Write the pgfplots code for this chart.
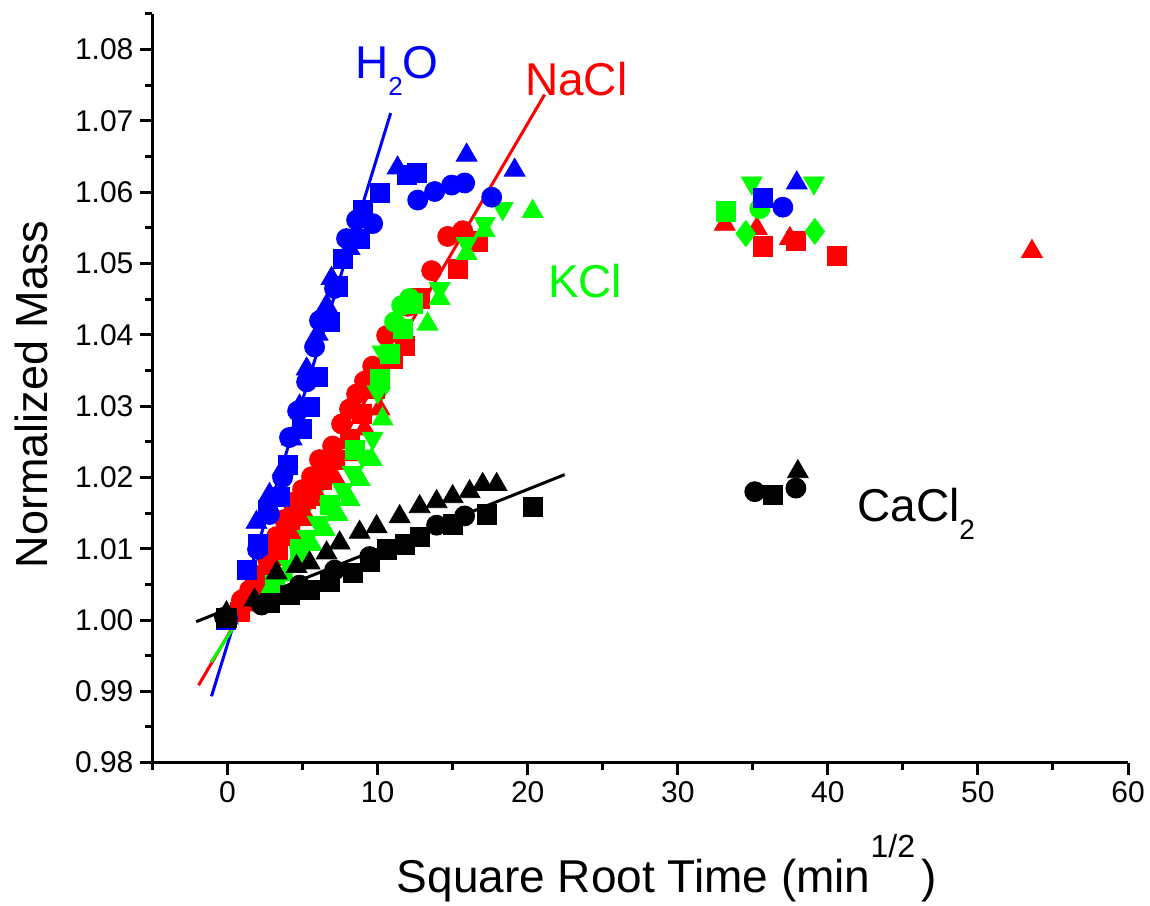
\documentclass[border=0pt]{standalone}
\usepackage{fontspec}
\setmainfont{Liberation Sans}
\usepackage{pgfplots}
\pgfplotsset{compat=1.18}
\definecolor{pblue}{RGB}{0,0,255}
\definecolor{pred}{RGB}{255,0,0}
\definecolor{pgreen}{RGB}{0,255,0}
\pgfplotsset{
  mk/.style={only marks, mark=#1},
}
\begin{document}
\begin{tikzpicture}[x=1pt,y=1pt]
\begin{axis}[
  at={(0,0)}, anchor=south west,
  scale only axis, width=487.75pt, height=374.3pt,
  xmin=-5, xmax=60, ymin=0.98, ymax=1.085,
  axis x line*=bottom, axis y line*=left,
  axis line style={line width=1.5pt, -},
  tick align=outside,
  major tick length=6pt, minor tick length=3.5pt,
  tick style={black, line width=1.5pt},
  minor tick style={black, line width=1.5pt},
  xtick={0,10,20,30,40,50,60},
  minor xtick={-5,5,15,25,35,45,55},
  ytick={0.98,0.99,1.00,1.01,1.02,1.03,1.04,1.05,1.06,1.07,1.08},
  minor ytick={0.985,0.995,1.005,1.015,1.025,1.035,1.045,1.055,1.065,1.075,1.085},
  yticklabel style={/pgf/number format/.cd, fixed, fixed zerofill, precision=2},
  /pgf/number format/assume math mode=true,
  ticklabel style={font=\fontsize{15}{15}\selectfont},
  clip=false,
  xlabel={Square Root Time (min\raisebox{17.5pt}{\fontsize{16}{16}\selectfont 1/2}\hspace{3pt})},
  xlabel style={font=\fontsize{23}{23}\selectfont, at={(axis description cs:0.527,-0.174)}, anchor=base},
  ylabel={Normalized Mass},
  ylabel style={font=\fontsize{22.5}{22.5}\selectfont, at={(axis description cs:-0.108,0.492)}, anchor=base},
]
% ---- NaCl (red)
\addplot[mk=*, color=pred, mark size=5pt] coordinates {
(0.93,1.0028) (1.47,1.0042) (2.13,1.0063) (2.67,1.0085) (3.27,1.0117) (3.8,1.0141)
(4.33,1.0165) (5.0,1.0183) (5.6,1.0201) (6.13,1.0225) (7.0,1.0244) (7.6,1.0275)
(8.13,1.0296) (8.6,1.0317) (9.13,1.0335) (9.67,1.0356) (10.6,1.0399) (12.0,1.0440)
(13.6,1.0490) (14.67,1.0538) (15.67,1.0546)};
\addplot[mk=square*, color=pred, mark size=4.8pt] coordinates {
(0.8,1.0011) (1.8,1.0042) (2.47,1.0063) (3.0,1.0100) (3.33,1.0092) (4.13,1.0120) (4.8,1.0148)
(5.2,1.0170) (5.6,1.0176) (6.27,1.0197) (6.7,1.0215) (7.13,1.0225) (8.13,1.0254) (8.93,1.0289) (9.8,1.0324)
(11.0,1.0366) (11.8,1.0385) (12.8,1.0451) (15.33,1.0493) (16.67,1.0531)
(35.67,1.0524) (37.87,1.0532) (40.6,1.0511)};
\addplot[mk=triangle*, color=pred, mark size=6pt] coordinates {
(1.13,1.0021) (2.27,1.0049) (3.47,1.0085) (4.47,1.0113) (5.33,1.0141) (6.13,1.0169)
(7.13,1.0200) (8.13,1.0232) (9.13,1.0268) (10.13,1.0296)
(33.13,1.0555) (35.27,1.0549) (37.47,1.0535) (53.6,1.0517)};
% ---- KCl (green)
\addplot[mk=triangle*, color=pgreen, mark size=6pt, mark options={rotate=180}] coordinates {
(4.13,1.0075) (4.8,1.0094) (5.33,1.0117) (6.0,1.0137) (6.8,1.0159) (7.67,1.0183)
(8.33,1.0207) (9.0,1.0230) (9.67,1.0255) (10.0,1.0320) (10.33,1.0376) (14.13,1.0465)
(15.93,1.0528) (17.13,1.0556) (18.33,1.0577) (34.93,1.0613) (39.07,1.0613)};
\addplot[mk=triangle*, color=pgreen, mark size=6pt] coordinates {
(2.8,1.0042) (3.8,1.0063) (4.6,1.0085) (5.6,1.0106) (6.47,1.0127) (7.33,1.0148)
(8.13,1.0169) (8.8,1.0197) (9.6,1.0225) (10.33,1.0282) (13.33,1.0415) (14.13,1.0451)
(15.93,1.0514) (17.13,1.0546) (20.33,1.0573)};
\addplot[mk=square*, color=pgreen, mark size=4.8pt] coordinates {
(3.13,1.0049) (4.8,1.0099) (6.8,1.0162) (8.47,1.0239) (10.13,1.0338) (10.8,1.0373)
(11.67,1.0408) (12.33,1.0444) (33.2,1.0573)};
\addplot[mk=*, color=pgreen, mark size=5pt] coordinates {
(11.13,1.0418) (11.6,1.0441) (12.13,1.0451) (35.47,1.0577)};
\addplot[mk=diamond*, color=pgreen, mark size=6.5pt] coordinates {
(34.53,1.0542) (39.13,1.0545)};
% ---- H2O (blue)
\addplot[mk=square*, color=pblue, mark size=4.8pt] coordinates {
(-0.13,1.0000) (1.3,1.0070) (2.0,1.0106) (2.67,1.0155) (3.47,1.0173) (4.0,1.0218)
(4.93,1.0268) (5.47,1.0299) (6.0,1.0341) (6.8,1.0418) (7.33,1.0468) (7.67,1.0507)
(8.8,1.0535) (9.0,1.0575) (10.13,1.0599) (11.93,1.0624) (12.6,1.0627) (35.67,1.0592)};
\addplot[mk=*, color=pblue, mark size=5pt] coordinates {
(0,1.0003) (2.0,1.0099) (2.8,1.0148) (3.67,1.0200) (4.13,1.0256) (4.67,1.0293)
(5.27,1.0334) (5.8,1.0383) (6.13,1.0420) (7.13,1.0465) (7.93,1.0535) (8.6,1.0561)
(9.67,1.0556) (12.67,1.0589) (13.8,1.0601) (14.93,1.0610) (15.8,1.0613) (17.6,1.0593)
(37.0,1.0579)};
\addplot[mk=triangle*, color=pblue, mark size=6pt] coordinates {
(0,1.0003) (1.93,1.0137) (2.8,1.0176) (3.67,1.0211) (4.27,1.0254) (4.8,1.0300)
(5.27,1.0352) (6.0,1.0401) (6.6,1.0441) (6.93,1.0479) (8.13,1.0521) (9.13,1.0570)
(11.33,1.0634) (15.93,1.0652) (19.13,1.0631) (37.93,1.0613)};
% ---- CaCl2 (black)
\addplot[mk=square*, color=black, mark size=4.8pt] coordinates {
(-0.07,1.0003) (2.8,1.0024) (4.13,1.0035) (5.47,1.0042) (6.8,1.0054) (8.33,1.0066)
(9.47,1.0082) (10.6,1.0099) (11.8,1.0106) (12.8,1.0117) (15.0,1.0134) (17.27,1.0148)
(20.33,1.0159) (36.33,1.0175)};
\addplot[mk=*, color=black, mark size=5pt] coordinates {
(-0.2,1.0004) (2.27,1.0021) (4.8,1.0049) (7.13,1.0070) (9.47,1.0089) (13.93,1.0133)
(15.8,1.0146) (35.13,1.0180) (37.87,1.0185)};
\addplot[mk=triangle*, color=black, mark size=6pt] coordinates {
(-0.07,1.0010) (1.8,1.0028) (3.27,1.0066) (4.6,1.0075) (5.47,1.0080) (6.6,1.0094)
(7.47,1.0108) (8.8,1.0123) (9.93,1.0131) (11.47,1.0145) (12.8,1.0159) (13.93,1.0166)
(15.0,1.0173) (16.13,1.0180) (17.0,1.0190) (17.93,1.0190) (38.0,1.0208)};
% ---- fitted lines
\addplot[pblue, line width=1.5pt] coordinates {(-1.07,0.9893) (10.87,1.0711)};
\addplot[pred, line width=1.5pt] coordinates {(-1.93,0.99085) (21.13,1.0737)};
\addplot[pgreen, line width=1.5pt] coordinates {(-1.09,0.99413) (10.8,1.0327)};
\addplot[black, line width=1.5pt] coordinates {(-2.09,0.99976) (22.47,1.0204)};
% ---- labels
\node[anchor=base west, text=pblue, font=\fontsize{23}{23}\selectfont, inner sep=0pt]
  at (axis cs:8.47,1.0760) {H\raisebox{-8.5pt}{\fontsize{13}{13}\selectfont 2}O};
\node[anchor=base west, text=pred, font=\fontsize{23}{23}\selectfont, inner sep=0pt]
  at (axis cs:19.8,1.0736) {NaCl};
\node[anchor=base west, text=pgreen, font=\fontsize{23}{23}\selectfont, inner sep=0pt]
  at (axis cs:21.33,1.0452) {KCl};
\node[anchor=base west, text=black, font=\fontsize{23}{23}\selectfont, inner sep=0pt]
  at (axis cs:41.93,1.01375) {CaCl\raisebox{-9pt}{\fontsize{14}{14}\selectfont 2}};
\end{axis}
\pgfresetboundingbox
\path[use as bounding box] (-76.25,-71.2) rectangle (498.75,381.3);
\end{tikzpicture}
\end{document}
